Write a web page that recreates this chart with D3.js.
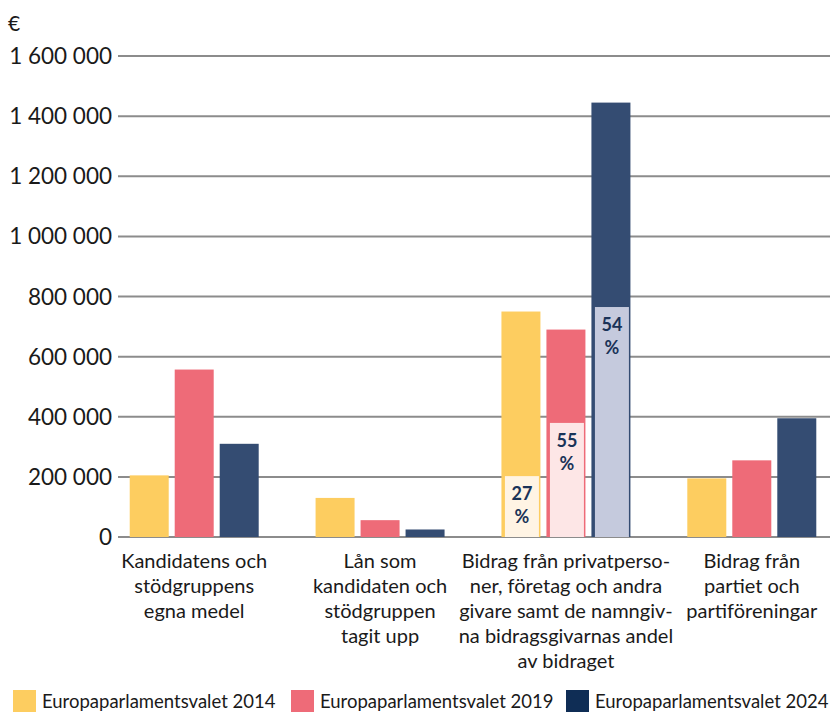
<!DOCTYPE html>
<html><head><meta charset="utf-8">
<script src="https://cdn.jsdelivr.net/npm/d3@7"></script>
<style>body{margin:0;background:#fff}svg{display:block;font-family:Lato,"Open Sans",sans-serif}</style>
</head><body><svg id="c" width="830" height="712"></svg>
<script>
const categories = [
  ["Kandidatens och","stödgruppens","egna medel"],
  ["Lån som","kandidaten och","stödgruppen","tagit upp"],
  ["Bidrag från privatperso-","ner, företag och andra","givare samt de namngiv-","na bidragsgivarnas andel","av bidraget"],
  ["Bidrag från","partiet och","partiföreningar"]
];
const series = ["Europaparlamentsvalet 2014","Europaparlamentsvalet 2019","Europaparlamentsvalet 2024"];
const values2014 = [205000, 130000, 750000, 195000];
const values2019 = [557000, 56000, 690000, 255000];
const values2024 = [310000, 25000, 1445000, 395000];
// named-donor share (third category only)
const namedValues = [202500, 379500, 765000];
const namedLabels = ["27", "55", "54"];
const yTicks = [0,200000,400000,600000,800000,1000000,1200000,1400000,1600000];
const colors = ["#FDCD60","#EE6B78","#344C72"];
const legendColors = ["#FDCD60","#EE6B78","#0F2D55"];
const lightColors = ["#FFF4E4","#FDE6E6","#C5CADD"];
const allValues = [values2014, values2019, values2024];

const svg = d3.select("#c");
const y = d3.scaleLinear().domain([0,1600000]).range([537,56]);
const x0 = d3.scaleBand().domain(d3.range(categories.length)).range([118,828]).paddingInner(0.306).paddingOuter(0.063);
const x1 = d3.scaleBand().domain(d3.range(series.length)).range([0, x0.bandwidth()]).paddingInner(0.1333).paddingOuter(0);
const fmt = v => d3.format(",")(v).replace(/,/g, " ");

// grid
svg.append("g").selectAll("line").data(yTicks).join("line")
  .attr("x1",118).attr("x2",830).attr("y1",d=>y(d)).attr("y2",d=>y(d))
  .attr("stroke","#8c8c8c").attr("stroke-width",2);
svg.append("g").selectAll("text").data(yTicks).join("text")
  .attr("x",112).attr("y",d=>y(d)).attr("dy","0.36em").attr("text-anchor","end")
  .attr("font-size",22.5).attr("fill","#1a1a1a").text(d=>fmt(d));
svg.append("text").attr("x",8).attr("y",31).attr("font-size",21).attr("fill","#1a1a1a").text("€");

// bars
const g = svg.append("g");
categories.forEach((c,i)=>{
  series.forEach((s,j)=>{
    const v = allValues[j][i];
    const bx = x0(i)+x1(j);
    g.append("rect").attr("x",bx).attr("y",y(v)).attr("width",x1.bandwidth()).attr("height",y(0)-y(v)).attr("fill",colors[j]);
  });
});
// named donor overlay in third category
namedValues.forEach((v,j)=>{
  const bx = x0(2)+x1(j);
  g.append("rect").attr("x",bx+3.5).attr("y",y(v)).attr("width",x1.bandwidth()-5).attr("height",y(0)-y(v)).attr("fill",lightColors[j]);
  const cx = bx + x1.bandwidth()/2 + 1;
  g.append("text").attr("x",cx).attr("y",y(v)+24).attr("text-anchor","middle").attr("font-size",18).attr("font-weight",700).attr("fill","#1A3358").text(namedLabels[j]);
  g.append("text").attr("x",cx).attr("y",y(v)+47).attr("text-anchor","middle").attr("font-size",18).attr("font-weight",700).attr("fill","#1A3358").text("%");
});

// x labels
categories.forEach((lines,i)=>{
  const t = svg.append("text").attr("text-anchor","middle").attr("font-size",20).attr("fill","#1a1a1a");
  lines.forEach((l,k)=>t.append("tspan").attr("x",x0(i)+x0.bandwidth()/2).attr("y",568+k*25).text(l));
});

// legend
const lx = [13, 291, 566];
series.forEach((s,j)=>{
  svg.append("rect").attr("x",lx[j]).attr("y",690).attr("width",23).attr("height",22).attr("fill",legendColors[j]);
  svg.append("text").attr("x",lx[j]+29).attr("y",708).attr("font-size",18.5).attr("fill","#1a1a1a").text(s);
});
</script></body></html>
